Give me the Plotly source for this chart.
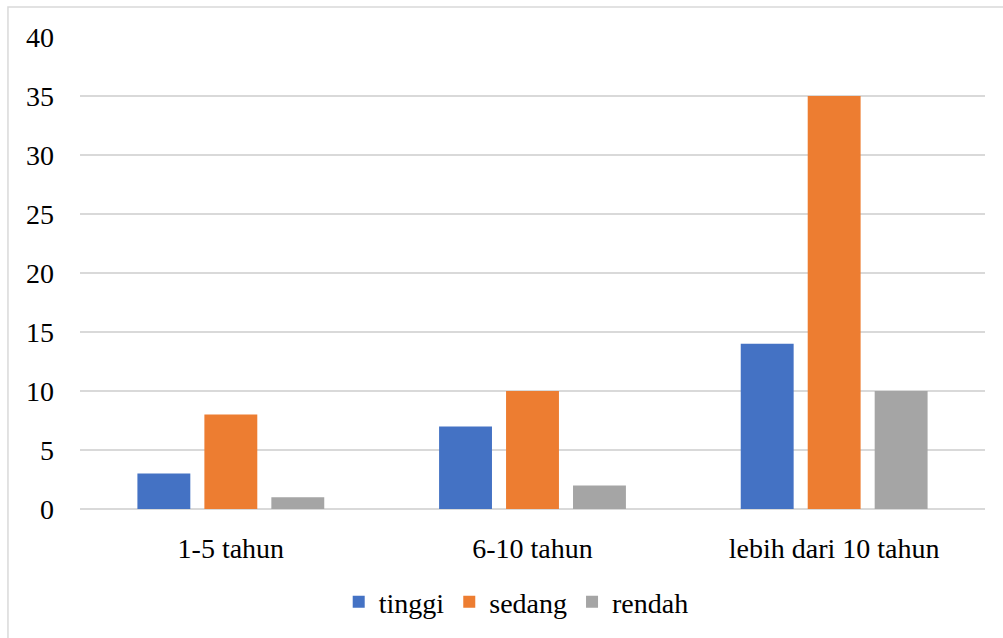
import plotly.graph_objects as go

categories = ["1-5 tahun", "6-10 tahun", "lebih dari 10 tahun"]
tinggi = [3, 7, 14]
sedang = [8, 10, 35]
rendah = [1, 2, 10]
y_ticks = [0, 5, 10, 15, 20, 25, 30, 35, 40]

FONT = "Liberation Serif"
SIZE = 28
GRID = "#d9d9d9"

fig = go.Figure()
for name, vals, color in [
    ("tinggi", tinggi, "#4472C4"),
    ("sedang", sedang, "#ED7D31"),
    ("rendah", rendah, "#A5A5A5"),
]:
    fig.add_trace(go.Bar(x=categories, y=vals, name=name,
                         marker=dict(color=color, line=dict(width=0))))

fig.update_layout(
    width=1003, height=638,
    margin=dict(l=80, r=18, t=37, b=128),
    paper_bgcolor="white", plot_bgcolor="white",
    font=dict(family=FONT, size=SIZE, color="black"),
    barmode="group", bargap=0.334, bargroupgap=0.21,
    showlegend=True,
    legend=dict(orientation="h", x=0.482, xanchor="center", y=-0.1945, yanchor="middle",
                font=dict(family=FONT, size=SIZE), itemwidth=30, traceorder="normal"),
    xaxis=dict(showgrid=False, showline=False, zeroline=False, ticks="",
               ticklabelstandoff=20, tickfont=dict(family=FONT, size=SIZE)),
    yaxis=dict(range=[0, 40], tickvals=y_ticks, showgrid=True, gridcolor=GRID, gridwidth=1.5,
               zeroline=True, zerolinecolor=GRID, zerolinewidth=1.5, showline=False,
               ticks="", ticklabelstandoff=25, tickfont=dict(family=FONT, size=SIZE)),
    shapes=[dict(type="rect", xref="paper", yref="paper",
                 x0=-0.0796, x1=1.2, y0=-0.6, y1=1.0634,
                 line=dict(color=GRID, width=1.5), fillcolor="rgba(0,0,0,0)", layer="below")],
)

fig.write_html("out.html")
